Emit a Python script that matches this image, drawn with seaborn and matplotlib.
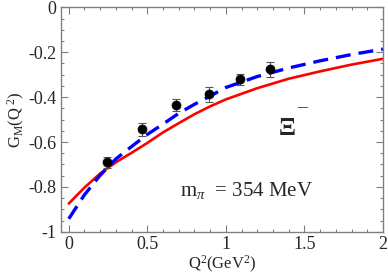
import matplotlib
matplotlib.use("Agg")
import matplotlib.pyplot as plt
import seaborn as sns
import pandas as pd

# lattice points
q2_pts = [0.242, 0.469, 0.683, 0.894, 1.091, 1.282]
gm_pts = [-0.691, -0.544, -0.435, -0.388, -0.320, -0.276]
gm_err = [0.025, 0.027, 0.025, 0.033, 0.025, 0.033]

# curves
q2_curve = [0, 0.1, 0.2, 0.3, 0.4, 0.5, 0.6, 0.7, 0.8, 0.9, 1.0, 1.2, 1.4, 1.6, 1.8, 2.0]
gm_red = [-0.874, -0.803, -0.740, -0.690, -0.648, -0.604, -0.557, -0.516, -0.476,
          -0.441, -0.410, -0.360, -0.318, -0.285, -0.255, -0.229]
gm_blue = [-0.942, -0.835, -0.748, -0.675, -0.620, -0.566, -0.520, -0.472, -0.432,
           -0.395, -0.357, -0.308, -0.270, -0.238, -0.210, -0.186]

sns.set_style("ticks")
plt.rcParams['font.family'] = ['Liberation Serif', 'DejaVu Serif']
plt.rcParams['mathtext.fontset'] = 'custom'
plt.rcParams['mathtext.rm'] = 'Liberation Serif'
plt.rcParams['mathtext.it'] = 'Liberation Serif:italic'
plt.rcParams['mathtext.bf'] = 'Liberation Serif:bold'

df = pd.DataFrame({'q2': q2_curve, 'red': gm_red, 'blue': gm_blue})

fig = plt.figure(figsize=(3.88, 2.74), dpi=100)
ax = fig.add_axes([0.157, 0.154, 0.83, 0.819])

sns.lineplot(data=df, x='q2', y='red', color='red', linewidth=1.9, ax=ax)
sns.lineplot(data=df, x='q2', y='blue', color='blue', linewidth=2.4, ax=ax,
             dashes=False)
ax.lines[-1].set_dashes([4.5, 2.4])
ax.errorbar(q2_pts, gm_pts, yerr=gm_err, fmt='none', ecolor='#555555',
            elinewidth=0.8, capsize=3, capthick=0.8)
sns.scatterplot(x=q2_pts, y=gm_pts, color='black', s=42, edgecolor='black',
                zorder=5, ax=ax)

ax.set_xlim(-0.05, 2.0)
ax.set_ylim(-1.0, 0.0)
ax.set_xticks([0, 0.5, 1, 1.5, 2])
ax.set_xticklabels(['0', '0.5', '1', '1.5', '2'])
ax.set_yticks([-1, -0.8, -0.6, -0.4, -0.2, 0])
ax.set_yticklabels(['-1', '-0.8', '-0.6', '-0.4', '-0.2', '0'])
ax.set_xticks([i / 10 for i in range(0, 21)], minor=True)
ax.set_yticks([-1 + i * 0.05 for i in range(21)], minor=True)
ax.tick_params(which='both', direction='in', top=True, right=True,
               color='#808080', labelsize=13)
ax.tick_params(which='major', length=5, width=0.8, pad=3)
ax.tick_params(which='minor', length=2.5, width=0.8)
for s in ax.spines.values():
    s.set_color('#808080')
    s.set_linewidth(1)

ax.set_xlabel(r'Q$^2$(GeV$^2$)', fontsize=12, labelpad=1)
ax.set_ylabel(r'G$_\mathrm{M}$(Q$^{\ 2}$)', fontsize=12, labelpad=1)

ax.text(1.33, -0.54, r'$\mathbf{\Xi}$', fontsize=18, va='center')
ax.text(1.455, -0.445, '\u2013', fontsize=14, va='center')
ax.text(0.71, -0.815, r'm$_\pi$  = 354 MeV', fontsize=15, va='center')

fig.savefig('out.png', dpi=100)
